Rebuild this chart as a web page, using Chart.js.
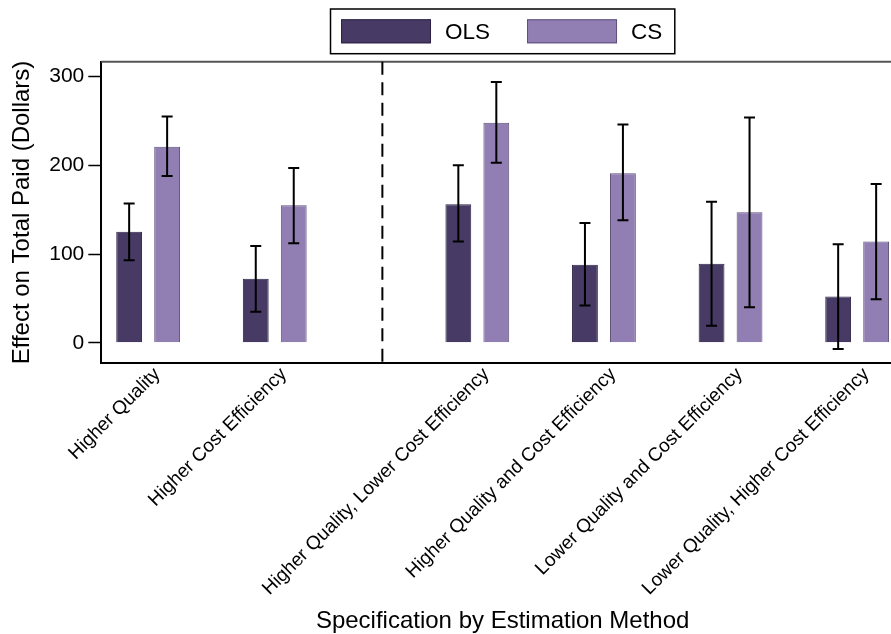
<!DOCTYPE html>
<html>
<head>
<meta charset="utf-8">
<script src="https://cdn.jsdelivr.net/npm/chart.js"></script>
<style>
  html, body { margin: 0; padding: 0; background: #fff; overflow: hidden; }
  #wrap { width: 904px; height: 634px; }
</style>
</head>
<body>
<div id="wrap"><canvas id="chart" width="904" height="634"></canvas></div>
<script>
// Dados do gráfico
const categories = [
    'Higher Quality',
    'Higher Cost Efficiency',
    'Higher Quality, Lower Cost Efficiency',
    'Higher Quality and Cost Efficiency',
    'Lower Quality and Cost Efficiency',
    'Lower Quality, Higher Cost Efficiency'
];
// posição de cada grupo no eixo x (há um espaço extra depois do 2º grupo)
const catPositions = [1, 2, 3.6, 4.6, 5.6, 6.6];
const dividerPosition = 2.85;

const seriesLabels = ['OLS', 'CS'];
const olsValues = [125, 72, 156, 88, 89, 52];
const olsLow    = [93, 35, 114, 42, 19, -7];
const olsHigh   = [157, 109, 200, 135, 159, 111];
const csValues  = [221, 155, 248, 191, 147, 114];
const csLow     = [188, 112, 203, 138, 40, 49];
const csHigh    = [255, 197, 294, 246, 254, 179];

const yTicks = [0, 100, 200, 300];
const yMin = -23.2, yMax = 316.8;
const xMin = 0.63, xMax = 6.97;

const FONT = '"Liberation Sans", Arial, Helvetica, sans-serif';
Chart.defaults.font.family = FONT;
Chart.defaults.color = '#000';

const colors = {
    ols: '#473a65', olsBorder: '#2e2445',
    cs: '#917eb3', csBorder: '#5e5178'
};

// barras de erro
const errorBars = {
    id: 'errorBars',
    afterDatasetsDraw(chart) {
        const ctx = chart.ctx;
        const y = chart.scales.y;
        const ranges = [[olsLow, olsHigh], [csLow, csHigh]];
        ctx.save();
        ctx.strokeStyle = '#000';
        ctx.lineWidth = 2;
        ranges.forEach((r, d) => {
            const meta = chart.getDatasetMeta(d);
            meta.data.forEach((bar, i) => {
                const x = bar.x;
                const y1 = y.getPixelForValue(r[0][i]);
                const y2 = y.getPixelForValue(r[1][i]);
                ctx.beginPath();
                ctx.moveTo(x, y1); ctx.lineTo(x, y2);
                ctx.moveTo(x - 5.5, y1); ctx.lineTo(x + 5.5, y1);
                ctx.moveTo(x - 5.5, y2); ctx.lineTo(x + 5.5, y2);
                ctx.stroke();
            });
        });
        ctx.restore();
    }
};

// moldura superior, linha tracejada e legenda
const frameAndLegend = {
    id: 'frameAndLegend',
    afterDraw(chart) {
        const ctx = chart.ctx;
        const a = chart.chartArea;
        ctx.save();
        // borda superior
        ctx.strokeStyle = '#555';
        ctx.lineWidth = 2;
        ctx.beginPath();
        ctx.moveTo(a.left, a.top); ctx.lineTo(a.right, a.top);
        ctx.stroke();
        // linha tracejada
        const xd = chart.scales.x.getPixelForValue(dividerPosition);
        ctx.strokeStyle = '#000';
        ctx.setLineDash([13, 7.5]);
        ctx.beginPath();
        ctx.moveTo(xd, a.top); ctx.lineTo(xd, a.bottom);
        ctx.stroke();
        ctx.setLineDash([]);

        // legenda
        ctx.font = '22.5px ' + FONT;
        const sw = 90, sh = 24, gapText = 14, gapItem = 37;
        const fills = [colors.ols, colors.cs];
        const borders = [colors.olsBorder, colors.csBorder];
        const widths = seriesLabels.map(t => ctx.measureText(t).width);
        let total = 0;
        widths.forEach((w, i) => { total += sw + gapText + w + (i < widths.length - 1 ? gapItem : 0); });
        const cx = (a.left + a.right) / 2 - 1;
        let x = cx - total / 2;
        const top = 19.3;
        ctx.lineWidth = 1.5;
        ctx.strokeStyle = '#000';
        ctx.strokeRect(x - 10.5, 9, total + 23, 44.7);
        ctx.textBaseline = 'middle';
        ctx.textAlign = 'left';
        seriesLabels.forEach((t, i) => {
            ctx.fillStyle = fills[i];
            ctx.fillRect(x, top, sw, sh);
            ctx.strokeStyle = borders[i];
            ctx.lineWidth = 1;
            ctx.strokeRect(x + 0.5, top + 0.5, sw - 1, sh - 1);
            ctx.fillStyle = '#000';
            ctx.fillText(t, x + sw + gapText, top + sh / 2 + 1);
            x += sw + gapText + widths[i] + gapItem;
        });
        ctx.restore();
    }
};

const ctx = document.getElementById('chart');
new Chart(ctx, {
    type: 'bar',
    data: {
        datasets: [
            {
                label: seriesLabels[0],
                data: catPositions.map((p, i) => ({ x: p, y: olsValues[i] })),
                backgroundColor: colors.ols,
                borderColor: colors.olsBorder,
                borderWidth: 1
            },
            {
                label: seriesLabels[1],
                data: catPositions.map((p, i) => ({ x: p, y: csValues[i] })),
                backgroundColor: colors.cs,
                borderColor: colors.csBorder,
                borderWidth: 1
            }
        ]
    },
    options: {
        responsive: false,
        animation: false,
        devicePixelRatio: 1,
        categoryPercentage: 0.6,
        barPercentage: 0.68,
        layout: { padding: { top: 61.7, left: 0, right: 0, bottom: 0 } },
        plugins: {
            legend: { display: false },
            tooltip: { enabled: false }
        },
        scales: {
            x: {
                type: 'linear',
                min: xMin,
                max: xMax,
                offset: false,
                afterBuildTicks: s => { s.ticks = catPositions.map(v => ({ value: v })); },
                afterFit: s => { s.height = 634 - 363.3; },
                grid: { display: false, drawTicks: false },
                border: { display: true, color: '#000', width: 2 },
                ticks: {
                    autoSkip: false,
                    minRotation: 45,
                    maxRotation: 45,
                    padding: 0,
                    labelOffset: 9,
                    font: { size: 19 },
                    color: '#000',
                    callback: (v, i) => categories[i]
                },
                title: {
                    display: true,
                    text: 'Specification by Estimation Method',
                    font: { size: 24 },
                    color: '#000',
                    padding: { top: 0, bottom: -2 }
                }
            },
            y: {
                min: yMin,
                max: yMax,
                afterBuildTicks: s => { s.ticks = yTicks.map(v => ({ value: v })); },
                afterFit: s => { s.width = 101.3; },
                grid: { drawOnChartArea: false, drawTicks: true, tickLength: 13, tickColor: '#000', tickWidth: 1.5 },
                border: { display: true, color: '#000', width: 2 },
                ticks: { padding: 4, font: { size: 21 }, color: '#000' },
                title: {
                    display: true,
                    text: 'Effect on Total Paid (Dollars)',
                    font: { size: 24 },
                    color: '#000',
                    padding: { top: 8, bottom: 0 }
                }
            }
        }
    },
    plugins: [errorBars, frameAndLegend]
});
</script>
</body>
</html>
